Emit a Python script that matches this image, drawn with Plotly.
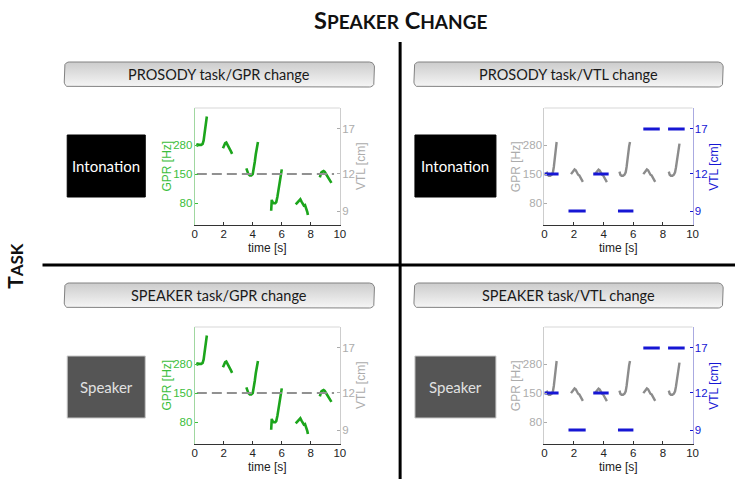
import math
import plotly.graph_objects as go

W, H = 741, 479

# ---------------- data ----------------
time_ticks = [0, 2, 4, 6, 8, 10]
gpr_ticks = [80, 150, 280]
vtl_ticks = [9, 12, 17]
gpr_range = [50, 625]
vtl_range = [8.08, 20]

# GPR-change condition: pitch contours (time [s], GPR [Hz]) - green
gpr_c1_t = [0.15, 0.20, 0.30, 0.45, 0.55, 0.62, 0.67, 0.72, 0.78, 0.84]
gpr_c1_hz = [272, 284, 282, 282, 288, 310, 350, 400, 460, 520]
gpr_c2_t = [1.95, 2.02, 2.10, 2.18, 2.26, 2.34, 2.42, 2.50, 2.58]
gpr_c2_hz = [262, 278, 292, 296, 284, 268, 255, 245, 232]
gpr_c3_t = [3.56, 3.62, 3.70, 3.80, 3.90, 4.00, 4.07, 4.14, 4.21, 4.28, 4.36]
gpr_c3_hz = [170, 160, 150, 146, 146, 150, 165, 195, 230, 265, 300]
gpr_c4_t = [5.27, 5.29, 5.31, 5.36, 5.45, 5.55, 5.62, 5.70, 5.78, 5.86, 5.95, 6.00]
gpr_c4_hz = [68, 76, 86, 82, 80, 80, 82, 92, 108, 130, 152, 166]
gpr_c5_t = [6.96, 7.04, 7.12, 7.20, 7.28, 7.36, 7.44, 7.52, 7.60, 7.68, 7.76, 7.80]
gpr_c5_hz = [78, 80, 83, 86, 87, 83, 78, 76, 77, 72, 66, 62]
gpr_c6_t = [8.62, 8.66, 8.72, 8.80, 8.88, 8.96, 9.05, 9.14, 9.23, 9.32, 9.42]
gpr_c6_hz = [140, 150, 155, 158, 160, 157, 150, 143, 137, 130, 124]
# constant VTL in the GPR-change condition (dashed)
gpr_const_vtl = [12, 12]
gpr_const_t = [0.15, 9.6]

# VTL-change condition: pitch contours at constant GPR - gray
vtl_c1_t = [0.16, 0.22, 0.30, 0.40, 0.50, 0.58, 0.64, 0.69, 0.74, 0.79, 0.83]
vtl_c1_hz = [158, 148, 145, 145, 148, 156, 175, 205, 240, 272, 300]
vtl_c2_t = [1.80, 1.88, 1.96, 2.04, 2.12, 2.20, 2.28, 2.36, 2.44, 2.52, 2.60]
vtl_c2_hz = [150, 156, 162, 166, 163, 154, 148, 146, 140, 133, 127]
vtl_c3_t = [3.42, 3.50, 3.58, 3.66, 3.74, 3.82, 3.90, 3.98, 4.06, 4.14, 4.22]
vtl_c3_hz = [150, 155, 161, 165, 162, 153, 148, 145, 139, 132, 126]
vtl_c4_t = [5.07, 5.13, 5.21, 5.31, 5.41, 5.49, 5.55, 5.60, 5.66, 5.72, 5.78]
vtl_c4_hz = [158, 148, 145, 145, 148, 156, 175, 205, 240, 272, 300]
vtl_c5_t = [6.68, 6.76, 6.84, 6.92, 7.00, 7.08, 7.16, 7.24, 7.32, 7.40, 7.48]
vtl_c5_hz = [150, 156, 162, 166, 163, 154, 148, 146, 140, 133, 127]
vtl_c6_t = [8.40, 8.46, 8.54, 8.64, 8.74, 8.82, 8.88, 8.94, 9.00, 9.06, 9.12]
vtl_c6_hz = [158, 148, 145, 145, 148, 156, 172, 200, 232, 262, 290]
# VTL steps (blue)
vtl_level_cm = [12, 9, 12, 9, 17, 17]
vtl_start_s = [0.0, 1.63, 3.30, 4.97, 6.68, 8.35]
vtl_end_s = [0.96, 2.79, 4.34, 6.01, 7.79, 9.47]

panel_titles = ["PROSODY task/GPR change", "PROSODY task/VTL change",
                "SPEAKER task/GPR change", "SPEAKER task/VTL change"]
cue_labels = ["Intonation", "Intonation", "Speaker", "Speaker"]

# ---------------- styles ----------------
GREEN = "rgb(28,165,28)"
GREEN_LBL = "rgb(60,190,60)"
GRAY_LINE = "rgb(140,140,140)"
GRAY_DASH = "rgb(145,145,145)"
GRAY_LBL = "rgb(172,172,172)"
BLUE = "rgb(22,22,212)"
TICKFONT = "Liberation Sans"
TXTFONT = "Lato"


def join(ts, vs):
    xs, ys = [], []
    for t, v in zip(ts, vs):
        xs += list(t) + [None]
        ys += list(v) + [None]
    return xs, ys


gpr_x, gpr_y = join([gpr_c1_t, gpr_c2_t, gpr_c3_t, gpr_c4_t, gpr_c5_t, gpr_c6_t],
                    [gpr_c1_hz, gpr_c2_hz, gpr_c3_hz, gpr_c4_hz, gpr_c5_hz, gpr_c6_hz])
vtlc_x, vtlc_y = join([vtl_c1_t, vtl_c2_t, vtl_c3_t, vtl_c4_t, vtl_c5_t, vtl_c6_t],
                      [vtl_c1_hz, vtl_c2_hz, vtl_c3_hz, vtl_c4_hz, vtl_c5_hz, vtl_c6_hz])
step_x, step_y = join([[a, b] for a, b in zip(vtl_start_s, vtl_end_s)],
                      [[v, v] for v in vtl_level_cm])

# panel geometry in pixels (plot box)
panels = [
    dict(kind="gpr", x=(194, 341), y=(108, 225), box=(62, 376, 62, 87), cue=(65, 144, 135, 197)),
    dict(kind="vtl", x=(548, 698), y=(108, 225), box=(416, 729, 62, 87), cue=(417, 499, 135, 197)),
    dict(kind="gpr", x=(194, 341), y=(327, 444), box=(62, 376, 283, 308), cue=(65, 144, 356, 418)),
    dict(kind="vtl", x=(548, 698), y=(327, 444), box=(416, 729, 283, 308), cue=(417, 499, 356, 418)),
]

fig = go.Figure()
layout = dict(width=W, height=H, margin=dict(l=0, r=0, t=0, b=0),
              paper_bgcolor="white", plot_bgcolor="rgba(0,0,0,0)", showlegend=False)
shapes, annotations = [], []
PX, PY = "x5", "y9"

for i, p in enumerate(panels):
    n = i + 1
    xname = "x" if n == 1 else f"x{n}"
    xkey = "xaxis" if n == 1 else f"xaxis{n}"
    yl, yr = 2 * i + 1, 2 * i + 2
    ylname = "y" if yl == 1 else f"y{yl}"
    ylkey = "yaxis" if yl == 1 else f"yaxis{yl}"
    yrname, yrkey = f"y{yr}", f"yaxis{yr}"
    x0, x1 = p["x"]
    y0, y1 = p["y"]
    if p["kind"] == "gpr":
        lcol, llbl, rcol, rlbl = GREEN, GREEN_LBL, GRAY_LINE, GRAY_LBL
        lline, rline = "rgb(160,215,160)", "rgb(205,205,205)"
    else:
        lcol, llbl, rcol, rlbl = GRAY_LINE, GRAY_LBL, BLUE, BLUE
        lline, rline = "rgb(205,205,205)", "rgb(170,170,225)"
    layout[xkey] = dict(domain=[x0 / W, x1 / W], anchor=ylname, range=[0, 10],
                        tickvals=time_ticks, ticks="inside", ticklen=3, tickcolor="#333",
                        showline=True, linecolor="#333", linewidth=1, ticklabelstandoff=-2,
                        tickfont=dict(family=TICKFONT, size=11.5, color="#222"),
                        showgrid=False, zeroline=False, fixedrange=True)
    layout[ylkey] = dict(domain=[1 - y1 / H, 1 - y0 / H], anchor=xname, type="log",
                         range=[math.log10(gpr_range[0]), math.log10(gpr_range[1])],
                         tickvals=gpr_ticks, ticktext=[str(v) for v in gpr_ticks],
                         ticks="inside", ticklen=3, tickcolor=llbl, ticklabelstandoff=-1,
                         showline=True, linecolor=lline, linewidth=1,
                         tickfont=dict(family=TICKFONT, size=11.5, color=llbl),
                         showgrid=False, zeroline=False, fixedrange=True)
    layout[yrkey] = dict(overlaying=ylname, anchor=xname, side="right", type="log",
                         range=[math.log10(vtl_range[0]), math.log10(vtl_range[1])],
                         tickvals=vtl_ticks, ticktext=[str(v) for v in vtl_ticks],
                         ticks="inside", ticklen=3, tickcolor=rlbl, ticklabelstandoff=-1,
                         showline=True, linecolor=rline, linewidth=1,
                         tickfont=dict(family=TICKFONT, size=11.5, color=rlbl),
                         showgrid=False, zeroline=False, fixedrange=True)
    if p["kind"] == "gpr":
        fig.add_trace(go.Scatter(x=gpr_x, y=gpr_y, xaxis=xname, yaxis=ylname, mode="lines",
                                 line=dict(color=GREEN, width=2.6), hoverinfo="skip"))
        fig.add_trace(go.Scatter(x=gpr_const_t, y=gpr_const_vtl, xaxis=xname, yaxis=yrname,
                                 mode="lines", line=dict(color=GRAY_DASH, width=2, dash="10px,5px"),
                                 hoverinfo="skip"))
    else:
        fig.add_trace(go.Scatter(x=vtlc_x, y=vtlc_y, xaxis=xname, yaxis=ylname, mode="lines",
                                 line=dict(color=GRAY_LINE, width=2.4), hoverinfo="skip"))
        fig.add_trace(go.Scatter(x=step_x, y=step_y, xaxis=xname, yaxis=yrname, mode="lines",
                                 line=dict(color=BLUE, width=3), hoverinfo="skip"))
    # top border of axes box
    shapes.append(dict(type="line", xref=PX, yref=PY, x0=x0, x1=x1, y0=y0, y1=y0,
                       line=dict(color="rgb(215,215,215)", width=1)))
    # axis titles
    cy = (y0 + y1) / 2
    annotations.append(dict(xref=PX, yref=PY, x=x0 - 29, y=cy, text="GPR [Hz]", textangle=-90,
                            showarrow=False, font=dict(family=TICKFONT, size=12, color=llbl)))
    annotations.append(dict(xref=PX, yref=PY, x=x1 + 21, y=cy, text="VTL [cm]", textangle=-90,
                            showarrow=False, font=dict(family=TICKFONT, size=12, color=rlbl)))
    annotations.append(dict(xref=PX, yref=PY, x=(x0 + x1) / 2, y=y1 + 23, text="time [s]",
                            showarrow=False, font=dict(family=TICKFONT, size=12, color="#222")))
    # panel title box with gradient
    bx0, bx1, by0, by1 = p["box"]
    r = 5
    xs, ys = [], []
    corners = [(bx1 - r, by0 + r, -90, 0), (bx1 - r, by1 - r, 0, 90),
               (bx0 + r, by1 - r, 90, 180), (bx0 + r, by0 + r, 180, 270)]
    for cx, cyy, a0, a1 in corners:
        for k in range(7):
            a = math.radians(a0 + (a1 - a0) * k / 6)
            xs.append(cx + r * math.cos(a))
            ys.append(cyy + r * math.sin(a))
    xs.append(xs[0]); ys.append(ys[0])
    fig.add_trace(go.Scatter(x=xs, y=ys, xaxis=PX, yaxis=PY, mode="lines", fill="toself",
                             fillgradient=dict(type="vertical",
                                               colorscale=[[0, "rgb(246,246,246)"], [1, "rgb(204,204,204)"]]),
                             line=dict(color="rgb(130,130,130)", width=1), hoverinfo="skip"))
    annotations.append(dict(xref=PX, yref=PY, x=(bx0 + bx1) / 2, y=(by0 + by1) / 2,
                            text=panel_titles[i], showarrow=False,
                            font=dict(family=TXTFONT, size=14.5, color="#1a1a1a")))
    # cue box
    cx0, cx1, cy0, cy1 = p["cue"]
    dark = i < 2
    shapes.append(dict(type="rect", xref=PX, yref=PY, x0=cx0, x1=cx1, y0=cy0, y1=cy1,
                       fillcolor="black" if dark else "rgb(85,85,85)",
                       line=dict(color="rgb(200,200,200)" if not dark else "black", width=1)))
    annotations.append(dict(xref=PX, yref=PY, x=(cx0 + cx1) / 2, y=(cy0 + cy1) / 2,
                            text=cue_labels[i], showarrow=False,
                            font=dict(family=TXTFONT, size=15,
                                      color="white" if dark else "rgb(225,225,225)")))

# overlay pixel-coordinate axis for decorations
layout["xaxis5"] = dict(domain=[0, 1], range=[0, W], visible=False, fixedrange=True, anchor="y9")
layout["yaxis9"] = dict(domain=[0, 1], range=[H, 0], visible=False, fixedrange=True, anchor="x5")

# separating cross
shapes.append(dict(type="line", xref=PX, yref=PY, x0=402, x1=402, y0=42, y1=479,
                   line=dict(color="black", width=3)))
shapes.append(dict(type="line", xref=PX, yref=PY, x0=40, x1=741, y0=265, y1=265,
                   line=dict(color="black", width=3)))

annotations.append(dict(xref=PX, yref=PY, x=402, y=20,
                        text="<b>S<span style='font-size:19px'>PEAKER</span> C<span style='font-size:19px'>HANGE</span></b>",
                        showarrow=False, font=dict(family=TXTFONT, size=23.5, color="#111")))
annotations.append(dict(xref=PX, yref=PY, x=11, y=266,
                        text="<b>T<span style='font-size:17px'>ASK</span></b>", textangle=-90,
                        showarrow=False, font=dict(family=TXTFONT, size=21, color="#111")))

layout["shapes"] = shapes
layout["annotations"] = annotations
fig.update_layout(**layout)
fig.write_html("out.html", config={"displayModeBar": False},
               post_script="document.body.style.margin='0px';document.body.style.overflow='hidden';")
